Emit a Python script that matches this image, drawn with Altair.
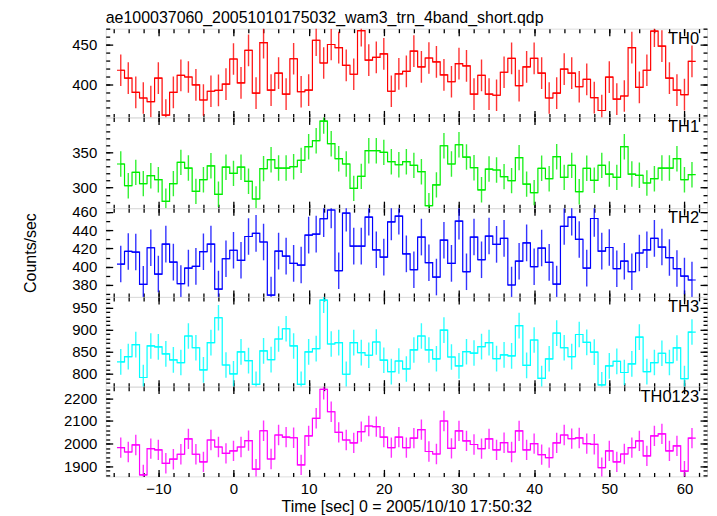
import altair as alt
import pandas as pd

time_s = list(range(-15, 62))

th0 = [417.5, 407.5, 389.6, 382.5, 378, 407.5, 361, 389.6, 411, 409, 399, 380, 391, 392, 400,
       431.7, 401.7, 442.5, 388.75, 452.5, 392.5, 414, 387.5, 432, 390.4,
       392.5, 455.4, 426.7, 450, 446, 423.75, 412.5, 467.5, 430.4, 433.75,
       438.3, 391, 413, 416, 441.7, 421.7, 433, 428, 411.7, 403,
       426, 423, 387.5, 411, 387.5, 386, 415, 432.5, 398, 421.7,
       432.5, 414, 382.5, 388.75, 419, 414, 396.7, 406, 383, 366.7,
       408.75, 381, 385, 446, 396, 417.5, 467, 448, 407.5, 392.5,
       386.7, 428.75]

th1 = [333.5, 302.8, 321.7, 305.7, 317, 311.3, 280.7, 305.7, 335.8, 327.8, 294.8, 311.3, 331, 290.6, 329,
       320.3, 329, 309, 284, 327, 339.6, 327.8, 327.8, 329.7, 338.7,
       358, 366.5, 394.3, 362.3, 341, 333.5, 299, 316, 352.4, 352.4,
       350, 336.8, 332.5, 336.8, 331.6, 322.6, 274.5, 304, 359.4, 333.5,
       360.8, 343.4, 328.3, 297, 326.4, 325, 315.6, 310, 342.5, 305,
       293, 327.4, 312.7, 343.9, 314.6, 331.6, 294.3, 327.4, 310.4, 331.6,
       319.3, 314.6, 358, 319.3, 317.5, 306.6, 312.7, 327.8, 327.8, 341,
       311.3, 318.4]

th2 = [402.9, 416.7, 416, 380.7, 420.7, 392, 424.7, 405, 381.5, 398.5, 400.4, 416.4, 424.7, 375.6, 408.7,
       418, 407, 433, 436.4, 427, 369, 417, 411.6, 403.6, 401.8,
       434.5, 435.6, 452.4, 462, 395.6, 458.5, 422.5, 422.5, 454.2, 418.5,
       410.5, 449, 455.3, 414, 396.7, 432.4, 404.4, 388.7, 429, 403.6,
       449.8, 394.5, 432.4, 407.6, 433.5, 424.4, 431, 380, 406, 426,
       400, 420.4, 404.7, 381, 444, 454.2, 429.8, 398.5, 452.7, 417,
       421, 397.8, 406, 394.5, 415, 418.5, 431, 421.5, 410, 398,
       389.8, 385.5]

th3 = [827, 839, 866, 791.7, 863, 860.8, 845, 831.5, 825.5, 885.5, 859, 809, 870.5, 926.8, 820,
       800, 849.5, 830, 776, 851.8, 832, 878.8, 902, 863, 776,
       849.5, 857, 966.5, 867.5, 870.5, 799, 870.5, 848, 842, 872,
       830.8, 805, 829, 811, 854, 885.5, 854, 834, 899, 838,
       818, 850, 847, 861.5, 870.5, 834.5, 843, 840.5, 909, 819,
       876.5, 789.5, 834, 892, 859, 839, 889, 871, 849, 775,
       818, 828, 803, 822.5, 883, 805, 825.5, 846.5, 825.5, 858.5,
       789, 894.5]

th0123 = [1982, 1963, 1994, 1862, 1978, 1972, 1913, 1931, 1953, 2021, 1953, 1919, 2016, 1985, 1957,
          1968, 1985, 2013, 1887, 2057, 1932, 2038, 2029, 2026, 1906,
          2034, 2112, 2240, 2141, 2050, 2016, 2003, 2053, 2078, 2075,
          2029, 1982, 2029, 1982, 2024, 2062, 1965, 1954, 2100, 1979,
          2056, 2012, 1996, 1978, 2021, 1972, 2004, 1963, 2056, 1972,
          2000, 1951, 1938, 2003, 2038, 2022, 2025, 2000, 1997, 1894,
          1968, 1919, 1954, 1982, 2012, 1946, 2034, 2043, 1968, 1990,
          1878, 2024]

band_names = ["TH0", "TH1", "TH2", "TH3", "TH0123"]
band_values = [th0, th1, th2, th3, th0123]
band_colors = ["#ff0000", "#00ee00", "#0000ff", "#00ffff", "#ff00ff"]
band_errors = [20, 18, 20, 29, 45]
band_domains = [[358, 470], [271, 399.5], [367, 464], [771, 974], [1855, 2252]]
band_heights = [89, 91, 89, 90, 90]
major_counts = [2, 2, 5, 4, 4]
minor_counts = [11, 13, 10, 20, 20]

title_text = "ae100037060_20051010175032_wam3_trn_4band_short.qdp"
x_title = "Time [sec] 0 = 2005/10/10 17:50:32"
y_title = "Counts/sec"
x_domain = [-17, 63]
W = 603
FONT = "Liberation Sans"


def make_axis(orient, size, count, labels=False, title=None, tpad=0, lpad=4, tfs=16):
    kw = dict(orient=orient, offset=-size, tickSize=size, tickCount=count,
              labels=labels, domain=False, grid=False, tickColor="#000000",
              tickWidth=1.3, labelFont=FONT, labelFontSize=15, labelColor="#000000",
              labelPadding=lpad, format="d", titleFont=FONT, titleFontSize=tfs,
              titleFontWeight="normal", titleColor="#000000", title=title)
    if title is not None:
        kw["titlePadding"] = tpad
    return alt.Axis(**kw)


panels = []
n = len(band_names)
for i in range(n):
    df = pd.DataFrame({"t": time_s, "v": band_values[i]})
    err = band_errors[i]
    h = band_heights[i]
    xs = alt.Scale(domain=x_domain, nice=False, zero=False)
    ys = alt.Scale(domain=band_domains[i], nice=False, zero=False)
    last = i == n - 1
    base = alt.Chart(df).transform_calculate(
        lo=f"datum.v - {err}", hi=f"datum.v + {err}",
        t0="datum.t - 0.5", t1="datum.t + 0.5")
    col = band_colors[i]

    horiz = base.mark_rule(color=col, strokeWidth=1.2, clip=True).encode(
        x=alt.X("t0:Q", scale=xs,
                axis=make_axis("bottom", 7, 8, labels=last,
                               title=x_title if last else None, tpad=2, lpad=5, tfs=16)),
        x2="t1:Q",
        y=alt.Y("v:Q", scale=ys,
                axis=make_axis("left", 7, major_counts[i], labels=True,
                               title=y_title if i == 2 else None, tpad=33, lpad=9)),
    )
    conn = base.mark_line(color=col, strokeWidth=1.2, interpolate="step", clip=True).encode(
        x=alt.X("t:Q", scale=xs, axis=make_axis("bottom", 4, 40)),
        y=alt.Y("v:Q", scale=ys, axis=make_axis("left", 4, minor_counts[i])),
    )
    errs = base.mark_rule(color=col, strokeWidth=1.4, opacity=0.8, clip=True).encode(
        x=alt.X("t:Q", scale=xs, axis=make_axis("top", 7, 8)),
        y=alt.Y("lo:Q", scale=ys, axis=make_axis("right", 7, major_counts[i])),
        y2="hi:Q",
    )
    ghost = base.mark_point(opacity=0, clip=True).encode(
        x=alt.X("t:Q", scale=xs, axis=make_axis("top", 4, 40)),
        y=alt.Y("v:Q", scale=ys, axis=make_axis("right", 4, minor_counts[i])),
    )
    label = alt.Chart(pd.DataFrame({"name": [band_names[i]]})).mark_text(
        align="right", baseline="alphabetic", font=FONT, fontSize=16.5, color="#000000"
    ).encode(text="name:N", x=alt.value(W - 8), y=alt.value(15))

    layer = alt.layer(horiz, conn, errs, ghost, label).resolve_axis(
        x="independent", y="independent").properties(width=W, height=h)
    if i == 0:
        layer = layer.properties(title=alt.TitleParams(
            title_text, anchor="start", frame="group", font=FONT, fontSize=16,
            fontWeight="normal", color="#000000", offset=2))
    panels.append(layer)

chart = alt.vconcat(*panels, spacing=0, bounds="flush").properties(
    padding={"left": 14, "top": 0, "right": 0, "bottom": 0}
).configure_view(stroke="#000000", strokeWidth=1.3).configure(background="#ffffff")

chart.save("out.html", embed_options={"renderer": "svg", "actions": False})
